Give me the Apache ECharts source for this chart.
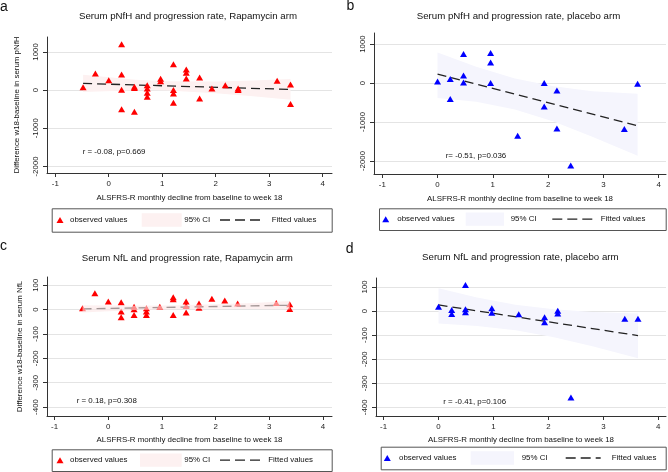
<!DOCTYPE html>
<html>
<head>
<meta charset="utf-8">
<script src="https://cdn.jsdelivr.net/npm/echarts@6.0.0/dist/echarts.min.js"></script>
<style>
  html, body { margin: 0; padding: 0; background: #fff; }
  #chart { width: 668px; height: 472px; }
</style>
</head>
<body>
<div id="chart"></div>
<script>
// ---- tick labels ----
var xTicks = [-1, 0, 1, 2, 3, 4];
var pnfhTicks = [-2000, -1000, 0, 1000];
var nflTicks = [-400, -300, -200, -100, 0, 100];

// ---- a: pNfH, Rapamycin arm ----
var rapaPnfhX = [-0.48, -0.25, 0, 0.24, 0.24, 0.24, 0.24, 0.48, 0.48, 0.48, 0.72, 0.72, 0.72, 0.72, 0.97, 0.97,
  1.21, 1.21, 1.21, 1.21, 1.45, 1.45, 1.45, 1.70, 1.70, 1.93, 2.18, 2.42, 2.42, 3.15, 3.40, 3.40];
var rapaPnfhY = [75, 435, 261, 1200, 409, 10, -504, 90, 55, -566, 130, 40, -70, -174, 300, 230,
  678, 0, -87, -331, 540, 452, 305, 331, -217, 44, 130, 44, 0, 243, 148, -365];
var rapaPnfhFitX = [-0.48, 3.40];
var rapaPnfhFitY = [174, 17];
var rapaPnfhBandX = [-0.48, 0.5, 1.1, 2.0, 2.7, 3.40];
var rapaPnfhBandUp = [400, 270, 230, 225, 250, 290];
var rapaPnfhBandLo = [-50, -5, -10, -80, -160, -255];

// ---- b: pNfH, placebo arm ----
var placPnfhX = [0, 0.23, 0.23, 0.47, 0.47, 0.47, 0.96, 0.96, 0.96, 1.45, 1.93, 1.93, 2.16, 2.16, 2.41, 3.38, 3.62];
var placPnfhY = [41, 103, -410, 744, 195, 15, 769, 528, 0, -1351, 0, -600, -190, -1164, -2113, -1180, -18];
var placPnfhFitX = [0, 3.62];
var placPnfhFitY = [231, -1095];
var placPnfhBandX = [0, 0.7, 1.4, 2.1, 2.8, 3.62];
var placPnfhBandUp = [785, 420, 115, -85, -210, -274];
var placPnfhBandLo = [-385, -480, -680, -990, -1380, -1864];

// ---- c: NfL, Rapamycin arm ----
var rapaNflX = [-0.48, -0.25, 0, 0.24, 0.24, 0.24, 0.48, 0.48, 0.48, 0.71, 0.71, 0.71, 0.96,
  1.21, 1.21, 1.21, 1.45, 1.45, 1.45, 1.69, 1.69, 1.93, 2.17, 2.41, 3.13, 3.38, 3.38];
var rapaNflY = [6, 67, 33, 30, -8, -31, 12, 2, -22, 6, -8, -22, 12,
  51, 43, -22, 33, 15, -12, 25, 8, 45, 37, 25, 27, 22, 3];
var rapaNflFitX = [-0.48, 3.38];
var rapaNflFitY = [3, 18];
var rapaNflBandX = [-0.48, 0.5, 1.1, 2.0, 2.7, 3.38];
var rapaNflBandUp = [18, 16, 17, 22, 27, 35];
var rapaNflBandLo = [-12, -2, 1, 4, 3, 1];

// ---- d: NfL, placebo arm ----
var placNflX = [0, 0.24, 0.24, 0.49, 0.49, 0.49, 0.97, 0.97, 1.46, 1.93, 1.93, 2.17, 2.17, 2.41, 3.39, 3.63];
var placNflY = [18, 4, -12, 108, 7, -5, 11, -7, -14, -26, -47, 1, -10, -359, -32, -32];
var placNflFitX = [0, 3.63];
var placNflFitY = [25, -102];
var placNflBandX = [0, 0.7, 1.4, 2.1, 2.8, 3.63];
var placNflBandUp = [94, 56, 26, 7, -4, -10];
var placNflBandLo = [-52, -62, -80, -109, -146, -196];

var FONT = '"Liberation Sans", Arial, Helvetica, sans-serif';
var RED = '#ff0000', BLUE = '#0000ff';
var PINK = '#fdf1f1', LILAC = '#f5f5fd';
var xName = 'ALSFRS-R monthly decline from baseline to week 18';

function zip(xs, ys) {
  return xs.map(function (x, i) { return [x, ys[i]]; });
}

var panels = [
  { letter: 'a', title: 'Serum pNfH and progression rate, Rapamycin arm',
    grid: {left: 47, top: 37, width: 285, height: 136}, xr: [-1.155, 4.176], yr: [-2172, 1391],
    yTicks: pnfhTicks, yName: 'Difference w18-baseline in serum pNfH', xGap: 21, yGap: 26,
    x: rapaPnfhX, y: rapaPnfhY, fx: rapaPnfhFitX, fy: rapaPnfhFitY,
    bx: rapaPnfhBandX, bu: rapaPnfhBandUp, bl: rapaPnfhBandLo,
    color: RED, band: PINK, bandTop: false, r: 'r = -0.08, p=0.669',
    letterPos: [0, 7], titlePos: [188, 16], rPos: [82.7, 152.3],
    lg: {x: 51.7, y: 208.3, w: 280, h: 23.4, tri: 60, t1: 70, r0: 141.7, r1: 181.7, t2: 184.3, d0: 220, d1: 260, t3: 271.7} },
  { letter: 'b', title: 'Serum pNfH and progression rate, placebo arm',
    grid: {left: 374, top: 33, width: 292, height: 141}, xr: [-1.15, 4.134], yr: [-2334, 1283],
    yTicks: pnfhTicks, yName: '', xGap: 21, yGap: 26,
    x: placPnfhX, y: placPnfhY, fx: placPnfhFitX, fy: placPnfhFitY,
    bx: placPnfhBandX, bu: placPnfhBandUp, bl: placPnfhBandLo,
    color: BLUE, band: LILAC, bandTop: false, r: 'r= -0.51, p=0.036',
    letterPos: [346.5, 6.5], titlePos: [518.5, 16], rPos: [445.7, 155.7],
    lg: {x: 379, y: 208.3, w: 286.7, h: 21.7, tri: 385.7, t1: 397.3, r0: 465.7, r1: 504, t2: 510.7, d0: 552.3, d1: 592.3, t3: 600.7} },
  { letter: 'c', title: 'Serum NfL and progression rate, Rapamycin arm',
    grid: {left: 47, top: 277, width: 285, height: 139}, xr: [-1.142, 4.168], yr: [-437, 134],
    yTicks: nflTicks, yName: 'Difference w18-baseline in serum NfL', xGap: 19.5, yGap: 23,
    x: rapaNflX, y: rapaNflY, fx: rapaNflFitX, fy: rapaNflFitY,
    bx: rapaNflBandX, bu: rapaNflBandUp, bl: rapaNflBandLo,
    color: RED, band: 'rgba(252,230,230,0.6)', bandTop: true, r: 'r = 0.18, p=0.308',
    letterPos: [0, 245.8], titlePos: [187.3, 258.7], rPos: [76.7, 401],
    lg: {x: 51.7, y: 449.3, w: 280, h: 21.7, tri: 60, t1: 70, r0: 140, r1: 181.7, t2: 184.3, d0: 220, d1: 260, t3: 268.3} },
  { letter: 'd', title: 'Serum NfL and progression rate, placebo arm',
    grid: {left: 376, top: 278, width: 290, height: 138}, xr: [-1.138, 4.14], yr: [-436, 137],
    yTicks: nflTicks, yName: '', xGap: 19.5, yGap: 23,
    x: placNflX, y: placNflY, fx: placNflFitX, fy: placNflFitY,
    bx: placNflBandX, bu: placNflBandUp, bl: placNflBandLo,
    color: BLUE, band: LILAC, bandTop: false, r: 'r = -0.41, p=0.106',
    letterPos: [345.7, 248.8], titlePos: [520.3, 257.7], rPos: [443.3, 401.7],
    lg: {x: 380.7, y: 446.7, w: 285, h: 22.6, tri: 387.3, t1: 399, r0: 470.7, r1: 514, t2: 521.7, d0: 565.7, d1: 600.7, t3: 611.7} }
];

var grids = [], xAxes = [], yAxes = [], series = [], graphics = [];

function txt(x, y, s, size, align) {
  return {
    type: 'text', x: x, y: y, silent: true,
    style: {text: s, fontSize: size, fontFamily: FONT, fill: '#111', align: align || 'left', verticalAlign: 'middle'}
  };
}

function plain(v) { return String(v); }

panels.forEach(function (p, i) {
  grids.push(Object.assign({outerBoundsMode: 'none', containLabel: false}, p.grid));

  xAxes.push({
    type: 'value', gridIndex: i, min: p.xr[0], max: p.xr[1],
    name: xName, nameLocation: 'middle', nameGap: p.xGap,
    nameTextStyle: {fontSize: 7.9, fontFamily: FONT, color: '#111'},
    axisLine: {show: true, onZero: false, lineStyle: {color: '#333', width: 1}},
    axisTick: {show: true, length: 4, customValues: xTicks, lineStyle: {color: '#333'}},
    axisLabel: {customValues: xTicks, margin: 7, fontSize: 7.9, fontFamily: FONT, color: '#222', formatter: plain},
    splitLine: {show: false}
  });

  yAxes.push({
    type: 'value', gridIndex: i, min: p.yr[0], max: p.yr[1],
    name: p.yName, nameLocation: 'middle', nameGap: p.yGap,
    nameTextStyle: {fontSize: 7.9, fontFamily: FONT, color: '#111'},
    axisLine: {show: true, onZero: false, lineStyle: {color: '#333', width: 1}},
    axisTick: {show: true, length: 4, customValues: p.yTicks, lineStyle: {color: '#333'}},
    axisLabel: {customValues: p.yTicks, rotate: 90, margin: 7, fontSize: 7.9, fontFamily: FONT, color: '#222', formatter: plain},
    splitLine: {show: true, lineStyle: {color: '#e4e4e4', width: 1}}
  });

  series.push({
    type: 'custom', xAxisIndex: i, yAxisIndex: i, silent: true,
    z: p.bandTop ? 5 : 1,
    data: [[p.bx[0], p.bu[0]]],
    renderItem: function (params, api) {
      var pts = [], k;
      for (k = 0; k < p.bx.length; k++) pts.push(api.coord([p.bx[k], p.bu[k]]));
      for (k = p.bx.length - 1; k >= 0; k--) pts.push(api.coord([p.bx[k], p.bl[k]]));
      return {type: 'polygon', shape: {points: pts}, style: {fill: p.band}};
    }
  });

  series.push({
    type: 'line', xAxisIndex: i, yAxisIndex: i, silent: true, z: 3,
    data: zip(p.fx, p.fy), showSymbol: false,
    lineStyle: {color: '#222', width: 1.3, type: [9, 5]}
  });

  series.push({
    type: 'scatter', name: 'observed values', xAxisIndex: i, yAxisIndex: i, z: 4,
    data: zip(p.x, p.y), symbol: 'triangle', symbolSize: [7, 6],
    itemStyle: {color: p.color, opacity: 1}
  });

  graphics.push(txt(p.letterPos[0], p.letterPos[1], p.letter, 14));
  graphics.push(txt(p.titlePos[0], p.titlePos[1], p.title, 9.7, 'center'));
  graphics.push(txt(p.rPos[0], p.rPos[1], p.r, 7.9));

  var L = p.lg, cy = L.y + L.h / 2;
  graphics.push({type: 'rect', silent: true, shape: {x: L.x + 0.5, y: L.y + 0.5, width: L.w, height: L.h},
    style: {fill: '#fff', stroke: '#555', lineWidth: 1}});
  graphics.push({type: 'polygon', silent: true,
    shape: {points: [[L.tri - 3.5, cy + 3], [L.tri + 3.5, cy + 3], [L.tri, cy - 3]]},
    style: {fill: p.color}});
  graphics.push(txt(L.t1, cy, 'observed values', 7.9));
  graphics.push({type: 'rect', silent: true, shape: {x: L.r0, y: cy - 6.7, width: L.r1 - L.r0, height: 13.4},
    style: {fill: p.color === RED ? PINK : LILAC}});
  graphics.push(txt(L.t2, cy, '95% CI', 7.9));
  graphics.push({type: 'line', silent: true, shape: {x1: L.d0, y1: cy, x2: L.d1, y2: cy},
    style: {stroke: '#222', lineWidth: 1.3, lineDash: [10, 5]}});
  graphics.push(txt(L.t3, cy, 'Fitted values', 7.9));
});

var chart = echarts.init(document.getElementById('chart'));
chart.setOption({
  animation: false,
  backgroundColor: '#fff',
  textStyle: {fontFamily: FONT},
  grid: grids,
  xAxis: xAxes,
  yAxis: yAxes,
  series: series,
  graphic: graphics
});
</script>
</body>
</html>
